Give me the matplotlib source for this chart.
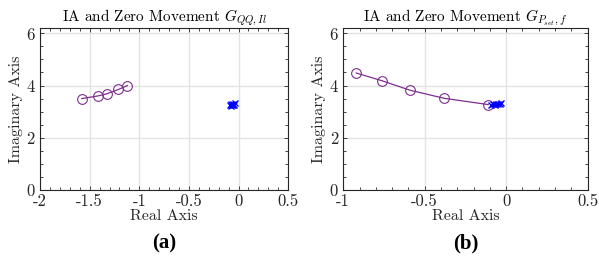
import matplotlib
matplotlib.use("Agg")
import matplotlib.pyplot as plt
from matplotlib.ticker import MultipleLocator

plt.rcParams['font.family'] = 'serif'
plt.rcParams['font.serif'] = ['cmr10', 'DejaVu Serif']
plt.rcParams['mathtext.fontset'] = 'cm'
plt.rcParams['axes.unicode_minus'] = False
plt.rcParams['axes.formatter.use_mathtext'] = True

# panel (a): zeros of G_QQ,Il and pole cluster
zeros_a_re = [-1.58, -1.42, -1.33, -1.21, -1.12]
zeros_a_im = [3.50, 3.60, 3.68, 3.85, 4.00]
poles_a_re = [-0.09, -0.08, -0.07, -0.06, -0.05, -0.04, -0.08, -0.06]
poles_a_im = [3.24, 3.30, 3.27, 3.30, 3.26, 3.32, 3.22, 3.25]

# panel (b): zeros of G_Pset,f and pole cluster
zeros_b_re = [-0.92, -0.76, -0.59, -0.38, -0.11]
zeros_b_im = [4.48, 4.18, 3.82, 3.51, 3.27]
poles_b_re = [-0.09, -0.08, -0.07, -0.06, -0.05, -0.04, -0.03]
poles_b_im = [3.24, 3.28, 3.26, 3.30, 3.29, 3.31, 3.32]

titles = [r'IA and Zero Movement $G_{QQ,Il}$',
          r'IA and Zero Movement $G_{P_{set},f}$']
xlims = [(-2, 0.5), (-1, 0.5)]
xticks = [[-2, -1.5, -1, -0.5, 0, 0.5], [-1, -0.5, 0, 0.5]]
xtick_labels = [['-2', '-1.5', '-1', '-0.5', '0', '0.5'],
                ['-1', '-0.5', '0', '0.5']]
panel_labels = ['(a)', '(b)']

purple = '#7E2F8E'
tick_col = '#262626'

fig = plt.figure(figsize=(5.99, 2.63), dpi=100)
axes = [fig.add_axes([0.067, 0.278, 0.414, 0.615]),
        fig.add_axes([0.573, 0.278, 0.408, 0.615])]

data = [(zeros_a_re, zeros_a_im, poles_a_re, poles_a_im),
        (zeros_b_re, zeros_b_im, poles_b_re, poles_b_im)]

for i, ax in enumerate(axes):
    zr, zi, pr, pi = data[i]
    ax.plot(zr, zi, '-o', color=purple, lw=0.9, ms=7, mfc='none', mew=0.8)
    ax.plot(pr, pi, 'x', color='#0000FF', ms=5, mew=1.0, ls='none')
    ax.set_xlim(*xlims[i])
    ax.set_ylim(0, 6.2)
    ax.set_xticks(xticks[i])
    ax.set_xticklabels(xtick_labels[i])
    ax.set_yticks([0, 2, 4, 6])
    ax.xaxis.set_minor_locator(MultipleLocator(0.1))
    ax.yaxis.set_minor_locator(MultipleLocator(0.5))
    ax.grid(True, which='major', color='#e3e3e3', lw=1.0)
    ax.set_axisbelow(True)
    ax.tick_params(which='both', direction='in', top=True, right=True,
                   labelsize=12, colors=tick_col, labelcolor=tick_col)
    ax.tick_params(which='major', length=3, width=0.6, pad=3)
    ax.tick_params(which='minor', length=2, width=0.6)
    for s in ax.spines.values():
        s.set_color(tick_col)
        s.set_linewidth(0.8)
    ax.set_title(titles[i], fontsize=11, pad=5, color='black')
    ax.set_xlabel('Real Axis', fontsize=11.5, labelpad=0, color=tick_col)
    ax.set_ylabel('Imaginary Axis', fontsize=11.5, labelpad=2, color=tick_col)
    ax.text(0.5, -0.33, panel_labels[i], transform=ax.transAxes,
            ha='center', va='center', fontsize=15, fontweight='bold',
            family='Liberation Serif')

fig.savefig('out.png', dpi=100)
